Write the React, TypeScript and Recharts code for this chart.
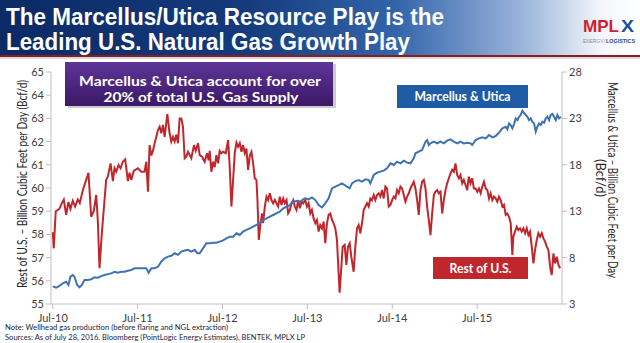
import { LineChart, Line, XAxis, YAxis } from 'recharts';

// x = months since Jul-10
const monthTicks = [0, 12, 24, 36, 48, 60];
const monthLabels = ['Jul-10', 'Jul-11', 'Jul-12', 'Jul-13', 'Jul-14', 'Jul-15'];
const leftTicks = [55, 56, 57, 58, 59, 60, 61, 62, 63, 64, 65];
const rightTicks = [3, 8, 13, 18, 23, 28];

// Rest of U.S. (Bcf/d), left axis
const restOfUS: [number, number][] = [
  [0, 58.1], [0.14, 57.4], [0.42, 59.0], [0.94, 59.1], [1.27, 59.34], [1.56, 59.5], [1.89, 58.84], [2.22, 59.4],
  [2.5, 59.1], [2.83, 59.45], [3.16, 59.2], [3.54, 59.5], [3.82, 59.35], [4.25, 59.9], [4.72, 60.35], [5.05, 60.66],
  [5.43, 58.76], [5.8, 59.0], [6.14, 59.7], [6.37, 58.6], [6.61, 56.54], [6.94, 58.06], [7.55, 60.35], [7.79, 60.5],
  [8.17, 61.06], [8.5, 60.3], [8.73, 60.85], [8.97, 60.7], [9.3, 60.99], [9.58, 60.85], [9.91, 61.13], [10.24, 61.23],
  [10.62, 60.3], [10.86, 60.66], [11.09, 60.35], [11.47, 60.75], [11.8, 60.8],
  [12.04, 60.85], [12.51, 60.7], [12.98, 60.7], [13.22, 61.13], [13.46, 59.84], [13.69, 61.85], [13.93, 61.4], [14.16, 61.6],
  [14.4, 61.93], [14.64, 62.21], [14.87, 62.5], [15.11, 62.64], [15.34, 62.36], [15.58, 62.72], [15.82, 62.2], [16.19, 63.19],
  [16.52, 62.36], [16.76, 62.0], [17.0, 62.2], [17.23, 62.0], [17.47, 62.3], [17.7, 61.93], [17.94, 63.0], [18.18, 63.0],
  [18.41, 62.64], [18.65, 61.28], [18.88, 61.35], [19.12, 61.56], [19.36, 61.42], [19.59, 61.28], [19.97, 61.85], [20.21, 61.6],
  [20.54, 61.93], [20.77, 61.42], [21.1, 61.35], [21.48, 61.13], [21.81, 61.5], [22.05, 61.2], [22.19, 61.6], [22.42, 60.7],
  [22.66, 61.13], [22.9, 60.9], [23.13, 61.42], [23.37, 61.06], [23.6, 61.6], [23.84, 61.5],
  [24.08, 61.56], [24.46, 61.5], [24.79, 62.07], [25.02, 60.9], [25.26, 59.2], [25.5, 60.35], [25.73, 61.5], [25.97, 61.96],
  [26.2, 61.78], [26.44, 61.93], [26.68, 61.56], [26.91, 61.85], [27.15, 61.5], [27.38, 61.7], [27.62, 60.78], [27.86, 61.4],
  [28.09, 61.56], [28.33, 61.06], [28.56, 60.42], [28.8, 60.35], [28.94, 59.48], [29.13, 57.76], [29.37, 58.48], [29.6, 58.9],
  [29.74, 58.48], [29.98, 59.2], [30.22, 59.63], [30.45, 59.48], [30.69, 59.77], [30.92, 59.48], [31.16, 59.34], [31.4, 59.48],
  [31.63, 59.34], [31.87, 59.2], [32.1, 59.63], [32.34, 59.27], [32.58, 59.55], [32.81, 59.34], [33.05, 59.48], [33.28, 58.91],
  [33.52, 59.05], [33.76, 59.34], [33.99, 59.48], [34.23, 59.2], [34.46, 59.05], [34.7, 59.48], [34.94, 59.13], [35.17, 59.41],
  [35.41, 59.34],
  [35.7, 59.48], [35.94, 59.2], [36.17, 59.34], [36.41, 58.9], [36.64, 59.05], [36.88, 58.69], [37.12, 58.48], [37.35, 58.62],
  [37.59, 58.12], [37.82, 58.4], [38.06, 58.26], [38.3, 58.55], [38.53, 57.62], [38.77, 58.48], [39.0, 58.84], [39.24, 58.9],
  [39.48, 58.62], [39.71, 58.48], [39.95, 58.26], [40.18, 57.76], [40.42, 56.32], [40.56, 55.49], [40.8, 56.6], [40.99, 57.47],
  [41.27, 57.55], [41.51, 56.68], [41.74, 57.47], [41.98, 57.62], [42.21, 57.04], [42.54, 56.39], [42.78, 57.47], [43.02, 58.26],
  [43.25, 58.4], [43.49, 58.05], [43.72, 58.48], [43.96, 59.05], [44.2, 59.2], [44.43, 59.34], [44.67, 59.2], [44.9, 59.55],
  [45.14, 59.48], [45.38, 59.7], [45.61, 59.48], [45.85, 59.7], [46.08, 59.77], [46.32, 59.63], [46.56, 59.91], [46.79, 59.55],
  [47.03, 60.06], [47.26, 59.98], [47.5, 59.2],
  [47.74, 59.27], [47.98, 59.48], [48.21, 59.63], [48.45, 59.55], [48.68, 59.91], [48.92, 59.77], [49.16, 60.06], [49.39, 59.98],
  [49.63, 59.7], [49.86, 59.41], [50.1, 59.63], [50.34, 59.77], [50.57, 59.98], [50.81, 60.13], [51.04, 60.27], [51.28, 59.98],
  [51.52, 59.48], [51.75, 58.84], [51.99, 59.91], [52.22, 60.27], [52.46, 60.35], [52.7, 59.98], [52.93, 59.2], [53.17, 58.62],
  [53.4, 57.97], [53.64, 58.9], [53.88, 59.7], [54.11, 59.84], [54.35, 59.91], [54.58, 59.77], [54.82, 59.84], [55.06, 58.9],
  [55.29, 59.48], [55.53, 59.91], [55.76, 60.2], [56.0, 60.42], [56.24, 60.63], [56.47, 60.78], [56.71, 60.7], [56.94, 61.06],
  [57.18, 60.56], [57.42, 60.42], [57.65, 60.56], [57.89, 60.2], [58.12, 60.35], [58.36, 60.13], [58.6, 59.91], [58.83, 60.49],
  [59.07, 60.2], [59.3, 60.42], [59.54, 59.98],
  [59.79, 59.98], [60.03, 59.84], [60.26, 59.98], [60.5, 59.77], [60.73, 60.06], [60.97, 60.27], [61.21, 59.98], [61.44, 59.91],
  [61.68, 59.55], [61.91, 59.77], [62.15, 59.48], [62.39, 59.63], [62.62, 59.55], [62.86, 59.41], [63.09, 59.63], [63.33, 59.48],
  [63.57, 59.2], [63.8, 59.27], [64.04, 58.84], [64.27, 58.9], [64.51, 58.76], [64.75, 58.48], [64.98, 57.11], [65.12, 57.9],
  [65.36, 58.12], [65.6, 58.33], [65.83, 58.19], [66.07, 58.26], [66.3, 58.12], [66.54, 58.26], [66.78, 58.05], [67.01, 58.26],
  [67.25, 57.97], [67.48, 58.12], [67.72, 57.47], [67.96, 56.75], [68.19, 57.33], [68.43, 57.76], [68.66, 58.05], [68.9, 57.9],
  [69.14, 58.05], [69.37, 57.83], [69.61, 57.69], [69.84, 57.47], [70.08, 57.33], [70.32, 56.61], [70.55, 56.25], [70.79, 57.18],
  [71.02, 56.75], [71.26, 57.04], [71.5, 56.68], [71.73, 56.54],
];

// Marcellus & Utica (Bcf/d), right axis
const marcellusUtica: [number, number][] = [
  [0, 4.9], [0.47, 4.75], [0.94, 4.94], [1.42, 5.23], [1.89, 5.4], [2.22, 5.05], [2.5, 5.94], [2.83, 6.12], [3.07, 5.94],
  [3.45, 5.05], [3.78, 4.8], [4.11, 5.05], [4.48, 5.59], [4.96, 5.59], [5.43, 5.66], [5.9, 5.87], [6.37, 5.84], [6.84, 6.0],
  [7.32, 6.12], [7.79, 6.22], [8.26, 6.3], [8.73, 6.48], [9.2, 6.37], [9.68, 6.48], [10.15, 6.48], [10.62, 6.59], [11.09, 6.66],
  [11.56, 6.84],
  [12.04, 6.84], [12.75, 6.84], [13.22, 6.84], [13.55, 6.37], [13.93, 6.84], [14.4, 6.84], [14.87, 7.02], [15.34, 7.57],
  [15.82, 7.93], [16.29, 8.11], [16.76, 8.19], [17.23, 8.47], [17.7, 8.29], [18.18, 8.65], [18.65, 8.77], [19.12, 8.84],
  [19.59, 8.65], [20.06, 8.84], [20.44, 8.47], [20.77, 8.47], [21.24, 9.0], [21.72, 9.54], [22.19, 9.54], [22.66, 9.6],
  [23.13, 9.6], [23.6, 9.72],
  [24.08, 9.85], [24.55, 10.08], [25.02, 10.26], [25.5, 10.26], [25.97, 10.62], [26.44, 10.44], [26.91, 10.8], [27.38, 10.98],
  [27.86, 11.16], [28.33, 11.34], [28.8, 11.52], [29.27, 11.7], [29.74, 12.05], [30.22, 12.23], [30.69, 12.41], [31.16, 12.59],
  [31.63, 12.77], [32.1, 12.95], [32.58, 13.3], [33.05, 13.48], [33.52, 13.66], [33.99, 14.02], [34.46, 14.1], [34.94, 14.02],
  [35.41, 14.27],
  [35.7, 14.38], [36.17, 14.27], [36.64, 14.49], [37.12, 14.2], [37.59, 13.66], [38.06, 13.4], [38.53, 13.84], [39.0, 14.38],
  [39.48, 15.46], [39.95, 15.64], [40.42, 15.82], [40.89, 16.0], [41.27, 15.82], [41.6, 15.64], [41.98, 15.46], [42.31, 16.0],
  [42.78, 16.25], [43.25, 16.36], [43.72, 16.18], [44.2, 16.43], [44.67, 16.36], [44.9, 16.0], [45.38, 16.9], [45.85, 17.15],
  [46.32, 17.26], [46.79, 17.37], [47.26, 17.62],
  [47.74, 18.16], [48.21, 17.98], [48.68, 18.34], [49.16, 18.16], [49.63, 18.45], [50.1, 18.23], [50.57, 18.16], [51.04, 18.7],
  [51.28, 19.24], [51.75, 19.42], [52.22, 19.6], [52.7, 20.49], [52.93, 20.67], [53.17, 20.13], [53.4, 20.31], [53.88, 20.49],
  [54.35, 20.31], [54.82, 20.49], [55.29, 20.31], [55.76, 20.6], [56.24, 20.74], [56.71, 20.49], [57.18, 20.31], [57.65, 20.49],
  [58.12, 20.31], [58.6, 20.38], [59.07, 20.31], [59.3, 20.13],
  [59.79, 20.67], [60.26, 20.85], [60.73, 20.96], [61.21, 20.85], [61.68, 21.21], [62.15, 20.96], [62.62, 21.1], [63.09, 21.46],
  [63.57, 21.93], [64.04, 22.1], [64.27, 21.82], [64.51, 22.46], [64.75, 22.28], [64.98, 21.93], [65.22, 22.39], [65.45, 23.0],
  [65.69, 22.82], [65.93, 23.18], [66.16, 23.37], [66.4, 23.83], [66.63, 23.6], [66.87, 23.37], [67.11, 23.18], [67.34, 22.82],
  [67.58, 23.0], [67.81, 22.64], [68.05, 22.46], [68.29, 21.57], [68.52, 22.1], [68.76, 22.46], [68.99, 22.28], [69.23, 22.64],
  [69.47, 22.53], [69.7, 23.0], [69.94, 23.18], [70.17, 22.82], [70.41, 23.37], [70.65, 23.48], [70.88, 23.18], [71.12, 22.82],
  [71.35, 23.37], [71.59, 23.0], [71.83, 23.18],
];

const titleLines = ['The Marcellus/Utica Resource Play is the', 'Leading U.S. Natural Gas Growth Play'];
const calloutLines = ['Marcellus & Utica account for over', '20% of total U.S. Gas Supply'];
const leftAxisTitle = 'Rest of U.S. \u2013 Billion Cubic Feet per Day (Bcf/d)';
const rightAxisTitle = ['Marcellus & Utica \u2013 Billion Cubic Feet per Day', '(Bcf/d)'];
const footNotes = [
  'Note: Wellhead gas production (before flaring and NGL extraction)',
  'Sources: As of July 28, 2016. Bloomberg (PointLogic Energy Estimates), BENTEK, MPLX LP',
];

const BODY_FONT = 'Lato, "Open Sans", sans-serif';
const TITLE_FONT = '"Liberation Sans Narrow", "Liberation Sans", Arial, sans-serif';
const RED = '#c0272d';
const BLUE = '#3f72b0';
const AXIS = '#bfbfbf';
const tickStyle = { fill: '#404040', fontSize: 11, fontFamily: BODY_FONT };

export default function App() {
  const restData = restOfUS.map(([m, v]) => ({ m, v }));
  const muData = marcellusUtica.map(([m, v]) => ({ m, v }));

  return (
    <div style={{ position: 'absolute', left: 0, top: 0, width: 640, height: 343, background: '#fff', overflow: 'hidden' }}>
      <div
        style={{
          position: 'absolute', left: 0, top: 0, width: 640, height: 55,
          background: 'linear-gradient(to right, #0b2a66 0%, #143a7c 38%, #3365ab 62%, #9db6dc 82%, #f4f7fb 94%, #ffffff 100%)',
        }}
      />
      <div style={{ position: 'absolute', left: 0, top: 55, width: 640, height: 2, background: '#8a1d22' }} />
      <div style={{ position: 'absolute', left: 0, top: 57, width: 640, height: 2, background: '#d9d9d9' }} />

      <LineChart
        width={640}
        height={343}
        margin={{ top: 72, right: 38, bottom: 19, left: 11 }}
        style={{ position: 'absolute', left: 0, top: 0 }}
      >
        <XAxis
          type="number"
          dataKey="m"
          domain={[-0.25, 72]}
          ticks={monthTicks}
          tickFormatter={(v: number) => monthLabels[monthTicks.indexOf(v)]}
          height={20}
          stroke={AXIS}
          tickLine={{ stroke: AXIS }}
          tickSize={5}
          tickMargin={5}
          tick={tickStyle}
          allowDataOverflow
        />
        <YAxis
          yAxisId="left"
          domain={[55, 65]}
          ticks={leftTicks}
          width={40}
          stroke={AXIS}
          tickSize={5}
          tickMargin={2}
          tick={tickStyle}
          allowDataOverflow
        />
        <YAxis
          yAxisId="right"
          orientation="right"
          domain={[3, 28]}
          ticks={rightTicks}
          width={40}
          stroke={AXIS}
          tickSize={5}
          tickMargin={2}
          tick={tickStyle}
          allowDataOverflow
        />
        <Line
          yAxisId="left"
          data={restData}
          dataKey="v"
          type="linear"
          stroke={RED}
          strokeWidth={2}
          dot={false}
          isAnimationActive={false}
        />
        <Line
          yAxisId="right"
          data={muData}
          dataKey="v"
          type="linear"
          stroke={BLUE}
          strokeWidth={2}
          dot={false}
          isAnimationActive={false}
        />
      </LineChart>

      <svg width={640} height={343} style={{ position: 'absolute', left: 0, top: 0, pointerEvents: 'none' }}>
        <defs>
          <linearGradient id="callout" x1="0" y1="0" x2="0" y2="1">
            <stop offset="0%" stopColor="#5e3597" />
            <stop offset="100%" stopColor="#3b1868" />
          </linearGradient>
        </defs>

        {/* title */}
        <text x={6} y={25} fill="#fff" fontFamily={TITLE_FONT} fontWeight="bold" fontSize={24} textLength={438} lengthAdjust="spacingAndGlyphs">
          {titleLines[0]}
        </text>
        <text x={6} y={50} fill="#fff" fontFamily={TITLE_FONT} fontWeight="bold" fontSize={24} textLength={404} lengthAdjust="spacingAndGlyphs">
          {titleLines[1]}
        </text>

        {/* logo */}
        <text x={583} y={32} fill="#d11f2f" fontFamily={TITLE_FONT} fontWeight="bold" fontSize={17} textLength={36} lengthAdjust="spacingAndGlyphs">
          MPL
        </text>
        <text x={621} y={32} fill="#1f4e9a" fontFamily={TITLE_FONT} fontWeight="bold" fontSize={17} textLength={13} lengthAdjust="spacingAndGlyphs">
          X
        </text>
        <text x={583} y={43} fill="#7f8fa6" fontFamily={TITLE_FONT} fontSize={5} textLength={22} lengthAdjust="spacingAndGlyphs">
          ENERGY/
        </text>
        <text x={606} y={43} fill="#1f4e9a" fontFamily={TITLE_FONT} fontWeight="bold" fontSize={5} textLength={29} lengthAdjust="spacingAndGlyphs">
          LOGISTICS
        </text>

        {/* callout */}
        <rect x={68} y={64} width={268} height={44} fill="#9a9a9a" opacity={0.5} />
        <rect x={65} y={62} width={268} height={44} fill="url(#callout)" />
        <text x={200} y={86} textAnchor="middle" fill="#fff" fontFamily={BODY_FONT} fontWeight="bold" fontSize={14} textLength={242} lengthAdjust="spacingAndGlyphs">
          {calloutLines[0]}
        </text>
        <text x={201} y={102} textAnchor="middle" fill="#fff" fontFamily={BODY_FONT} fontWeight="bold" fontSize={14} textLength={195} lengthAdjust="spacingAndGlyphs">
          {calloutLines[1]}
        </text>

        {/* series labels */}
        <rect x={397} y={85} width={131} height={23} fill="#1f5ca6" />
        <text x={462.5} y={101} textAnchor="middle" fill="#fff" fontFamily={BODY_FONT} fontWeight="bold" fontSize={13} textLength={96} lengthAdjust="spacingAndGlyphs">
          Marcellus &amp; Utica
        </text>
        <rect x={433} y={257} width={95} height={22} fill={RED} />
        <text x={480.5} y={273} textAnchor="middle" fill="#fff" fontFamily={BODY_FONT} fontWeight="bold" fontSize={13} textLength={62} lengthAdjust="spacingAndGlyphs">
          Rest of U.S.
        </text>

        {/* axis titles */}
        <text
          transform="translate(27 184) rotate(-90)"
          textAnchor="middle"
          fill="#262626"
          fontFamily={BODY_FONT}
          fontSize={12.5}
          textLength={208}
          lengthAdjust="spacingAndGlyphs"
        >
          {leftAxisTitle}
        </text>
        <text
          transform="translate(608 180) rotate(90)"
          textAnchor="middle"
          fill="#262626"
          fontFamily={BODY_FONT}
          fontSize={12.5}
          textLength={196}
          lengthAdjust="spacingAndGlyphs"
        >
          {rightAxisTitle[0]}
        </text>
        <text
          transform="translate(596 178) rotate(90)"
          textAnchor="middle"
          fill="#262626"
          fontFamily={BODY_FONT}
          fontSize={12.5}
          textLength={38}
          lengthAdjust="spacingAndGlyphs"
        >
          {rightAxisTitle[1]}
        </text>

        {/* footnotes */}
        <text x={5} y={330} fill="#1b2340" fontFamily={BODY_FONT} fontSize={7.5} textLength={223} lengthAdjust="spacingAndGlyphs">
          {footNotes[0]}
        </text>
        <text x={5} y={340} fill="#1b2340" fontFamily={BODY_FONT} fontSize={7.5} textLength={300} lengthAdjust="spacingAndGlyphs">
          {footNotes[1]}
        </text>
      </svg>
    </div>
  );
}
